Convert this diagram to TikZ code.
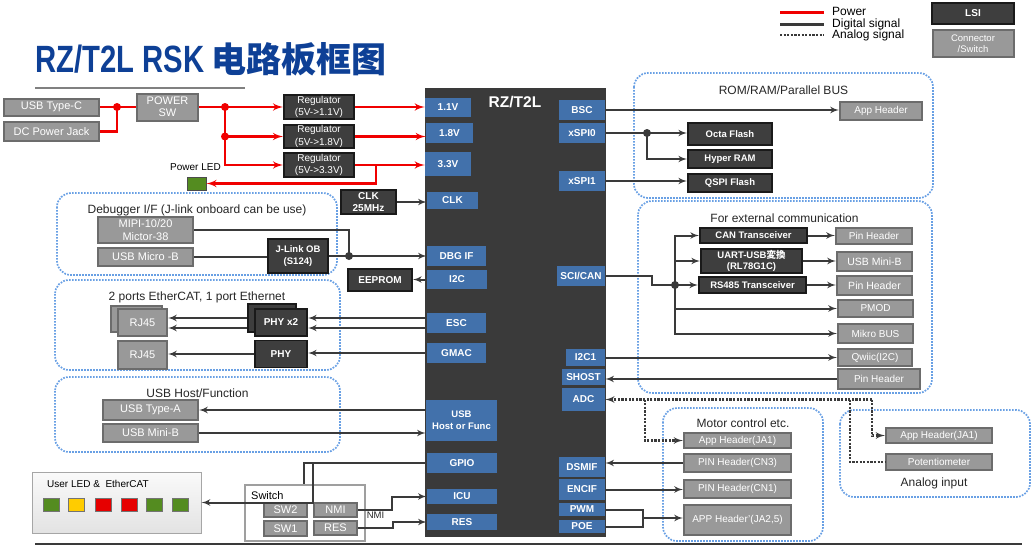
\documentclass[tikz,border=0pt]{standalone}
\usepackage{fontspec}
\setmainfont{Liberation Sans}
\newfontfamily\cjk{Noto Sans CJK SC}
\newfontfamily\jpfont{Noto Sans CJK JP}
\usetikzlibrary{shapes,arrows,positioning,calc}

\definecolor{pinblue}{RGB}{66,113,171}
\definecolor{chipgray}{RGB}{58,58,58}
\definecolor{lsigray}{RGB}{62,62,62}
\definecolor{lsiedge}{RGB}{26,26,26}
\definecolor{congray}{RGB}{153,153,153}
\definecolor{conedge}{RGB}{108,108,108}
\definecolor{grpblue}{RGB}{105,160,228}
\definecolor{sigc}{RGB}{58,58,58}
\definecolor{titleblue}{RGB}{14,64,150}
\definecolor{pwrred}{RGB}{240,0,0}
\definecolor{ledgreen}{RGB}{84,140,32}
\definecolor{ledyellow}{RGB}{255,204,0}
\definecolor{ledred}{RGB}{230,0,0}

\begin{document}
\begin{tikzpicture}[
    x=1pt, y=-1pt,
    every node/.style={inner sep=0pt, align=center},
    sz/.style 2 args={minimum width=#1pt, minimum height=#2pt},
    pinbox/.style={rectangle, fill=pinblue, text=white, font=\fontsize{10}{12}\selectfont\bfseries},
    lsibox/.style={rectangle, fill=lsigray, draw=lsiedge, line width=1.8pt, text=white, font=\fontsize{9.5}{11.5}\selectfont\bfseries},
    conbox/.style={rectangle, fill=congray, draw=conedge, line width=2pt, text=white, font=\fontsize{10}{12}\selectfont},
    conbig/.style={conbox, font=\fontsize{11}{13}\selectfont},
    grpbox/.style={draw=grpblue, line width=1.7pt, dash pattern=on 1.7pt off 1.3pt, rounded corners=14pt},
    grplabel/.style={font=\fontsize{12}{14}\selectfont, text=black!85},
    ledsq/.style={rectangle, draw=black!55, line width=0.7pt, sz={16}{13}},
    jdot/.style={circle, fill=#1, minimum size=8pt},
    pwr/.style={draw=pwrred, line width=2.5pt},
    sig/.style={draw=sigc, line width=2pt},
    ana/.style={draw=sigc, line width=2.2pt, dash pattern=on 2.2pt off 1.4pt},
    line/.style={-latex'}
]
\useasboundingbox (0,0) rectangle (1032,546);

% Title and legend
\node[anchor=west, text=titleblue] (title) at (35,59) {\fontsize{38}{40}\selectfont\bfseries\scalebox{0.77}[1]{RZ/T2L RSK}\hspace{7pt}{\fontsize{35}{38}\cjk\bfseries 电路板框图}};
\draw[line width=2.5pt, gray] (35,88) -- (245,88);
\draw[line width=1.2pt, sigc] (35,544) -- (1022,544);
\draw[pwr] (780,12.5) -- (824,12.5);
\draw[sig, line width=2.5pt] (780,24.5) -- (824,24.5);
\draw[ana, line width=2.5pt] (780,35) -- (824,35);
\node[anchor=west, font=\fontsize{12}{14}\selectfont] (lgpwr) at (832,11.5) {Power};
\node[anchor=west, font=\fontsize{12}{14}\selectfont] (lgsig) at (832,24) {Digital signal};
\node[anchor=west, font=\fontsize{12}{14}\selectfont] (lgana) at (832,35.5) {Analog signal};
\node[lsibox, sz={82}{21}, font=\fontsize{10}{12}\selectfont\bfseries] (lglsi) at (973,13.5) {LSI};
\node[conbox, sz={81}{27}, font=\fontsize{9.5}{11}\selectfont] (lgcon) at (973,43.5) {Connector\\/Switch};

% Groups
\draw[grpbox] (57,193) rectangle (337,275);
\draw[grpbox] (55,280) rectangle (340,370);
\draw[grpbox] (55,377) rectangle (340,452);
\draw[grpbox] (634,73) rectangle (933,198);
\draw[grpbox] (638,201) rectangle (932,393);
\draw[grpbox] (663,408) rectangle (823,541);
\draw[grpbox] (840,410) rectangle (1030,497);
\node[grplabel] (dbglbl) at (197,210) {Debugger I/F (J-link onboard can be use)};
\node[grplabel] (ethlbl) at (197,297) {2 ports EtherCAT, 1 port Ethernet};
\node[grplabel] (usblbl) at (197.5,393) {USB Host/Function};
\node[grplabel] (romlbl) at (783.5,90) {ROM/RAM/Parallel BUS};
\node[grplabel] (comlbl) at (784.5,218) {For external communication};
\node[grplabel] (motlbl) at (743,423) {Motor control etc.};
\node[grplabel] (analbl) at (934,483) {Analog input};

% RZ/T2L device
\node[rectangle, fill=chipgray, sz={181}{449}] (chip) at (515.5,312.5) {};
\node[text=white, font=\fontsize{15.5}{18}\selectfont\bfseries] (chiplbl) at (515,102) {RZ/T2L};
\node[pinbox, sz={46}{19}] (v11) at (448,107.5) {1.1V};
\node[pinbox, sz={47}{20}] (v18) at (449.5,133) {1.8V};
\node[pinbox, sz={46}{24}] (v33) at (448,164) {3.3V};
\node[pinbox, sz={51}{17}] (clk) at (452.5,200.5) {CLK};
\node[pinbox, sz={59}{20}] (dbg) at (456.5,256) {DBG IF};
\node[pinbox, sz={60}{19}] (i2c) at (457,279.5) {I2C};
\node[pinbox, sz={59}{20}] (esc) at (456.5,323) {ESC};
\node[pinbox, sz={59}{20}] (gmac) at (456.5,353) {GMAC};
\node[pinbox, sz={71}{41}, font=\fontsize{9.5}{12}\selectfont\bfseries] (usbf) at (461.5,420.5) {USB\\Host or Func};
\node[pinbox, sz={70}{20}] (gpio) at (462,463) {GPIO};
\node[pinbox, sz={70}{15}] (icu) at (462,496.5) {ICU};
\node[pinbox, sz={70}{16}] (rst) at (462,522) {RES};
\node[pinbox, sz={46}{20}] (bsc) at (582,110) {BSC};
\node[pinbox, sz={46}{20}] (xspi0) at (582,133) {xSPI0};
\node[pinbox, sz={46}{20}] (xspi1) at (582,181) {xSPI1};
\node[pinbox, sz={48}{20}] (scican) at (581,276) {SCI/CAN};
\node[pinbox, sz={39}{17}] (i2c1) at (585.5,357.5) {I2C1};
\node[pinbox, sz={43}{16}] (shost) at (583.5,377) {SHOST};
\node[pinbox, sz={43}{23}] (adc) at (583.5,399.5) {ADC};
\node[pinbox, sz={46}{20}] (dsmif) at (582,467) {DSMIF};
\node[pinbox, sz={46}{21}] (encif) at (582,489.5) {ENCIF};
\node[pinbox, sz={46}{13}] (pwm) at (582,509.5) {PWM};
\node[pinbox, sz={46}{13}] (poe) at (582,526.5) {POE};

% Power supply
\node[conbig, sz={95}{17}] (usbc) at (51.5,107) {USB Type-C};
\node[conbig, sz={95}{19}] (dcjack) at (51.5,131.5) {DC Power Jack};
\node[conbig, sz={61}{27}, font=\fontsize{11}{12}\selectfont] (pwsw) at (167.5,107) {POWER\\SW};
\node[lsibox, sz={70}{24}, font=\fontsize{10}{12.5}\selectfont] (reg1) at (319,107) {Regulator\\(5V->1.1V)};
\node[lsibox, sz={70}{23}, font=\fontsize{10}{12.5}\selectfont] (reg2) at (319,136.5) {Regulator\\(5V->1.8V)};
\node[lsibox, sz={70}{24}, font=\fontsize{10}{12.5}\selectfont] (reg3) at (319,165) {Regulator\\(5V->3.3V)};
\node[rectangle, fill=ledgreen, draw=black!70, line width=0.8pt, sz={19}{13}] (pled) at (196.5,183.5) {};
\node[font=\fontsize{10}{12}\selectfont] (pledlbl) at (195.5,167) {Power LED};
\node[lsibox, sz={55}{24}, font=\fontsize{10}{12}\selectfont\bfseries] (clkosc) at (368.5,202) {CLK\\25MHz};

% Debugger
\node[conbig, sz={95}{26}] (mipi) at (145.5,230) {MIPI-10/20\\Mictor-38};
\node[conbig, sz={95}{18}] (usbmicro) at (145.5,257) {USB Micro -B};
\node[lsibox, sz={60}{34}] (jlink) at (298,256) {J-Link OB\\(S124)};
\node[lsibox, sz={64}{22}, font=\fontsize{10}{12}\selectfont\bfseries] (eeprom) at (380,280) {EEPROM};

% Ethernet
\node[conbig, sz={51}{26}] (rj45s) at (136.5,319) {};
\node[conbig, sz={49}{27}] (rj45a) at (142.5,322.5) {RJ45};
\node[conbig, sz={49}{28}] (rj45b) at (142.5,354.5) {RJ45};
\node[lsibox, sz={48}{28}] (phyx2s) at (272,318) {};
\node[lsibox, sz={52}{27}, font=\fontsize{10}{12}\selectfont\bfseries] (phyx2) at (281,322.5) {PHY x2};
\node[lsibox, sz={52}{27}, font=\fontsize{10}{12}\selectfont\bfseries] (phy) at (281,354) {PHY};

% USB
\node[conbig, sz={95}{20}] (usba) at (150.5,410) {USB Type-A};
\node[conbig, sz={95}{18}] (usbminib) at (150.5,433) {USB Mini-B};

% User LED and switches
\node[rectangle, draw=black!35, line width=1pt, top color=gray!4, bottom color=gray!22, sz={169}{61}] (ledbox) at (116.5,502.5) {};
\node[anchor=west, font=\fontsize{10}{12}\selectfont] (ledlbl) at (47,484) {User LED \&\ \ EtherCAT};
\node[ledsq, fill=ledgreen] (led1) at (51,504.5) {};
\node[ledsq, fill=ledyellow] (led2) at (76,504.5) {};
\node[ledsq, fill=ledred] (led3) at (103,504.5) {};
\node[ledsq, fill=ledred] (led4) at (129,504.5) {};
\node[ledsq, fill=ledgreen] (led5) at (154,504.5) {};
\node[ledsq, fill=ledgreen] (led6) at (180,504.5) {};
\node[rectangle, draw=gray!75, line width=2.5pt, sz={120}{56}] (swbox) at (305,513) {};
\node[anchor=west, font=\fontsize{11}{13}\selectfont] (swlbl) at (251,496) {Switch};
\node[conbig, sz={43}{14}] (sw2) at (285.5,510) {SW2};
\node[conbig, sz={43}{15}] (sw1) at (285.5,528.5) {SW1};
\node[conbig, sz={43}{14}] (nmi) at (335.5,510) {NMI};
\node[conbig, sz={43}{14}] (res) at (335.5,528) {RES};

% Memory and parallel bus
\node[conbox, sz={82}{18}] (apphdr) at (881,111) {App Header};
\node[lsibox, sz={84}{22}] (octa) at (730,134) {Octa Flash};
\node[lsibox, sz={84}{18}] (hyper) at (730,159) {Hyper RAM};
\node[lsibox, sz={84}{18}] (qspi) at (730,183) {QSPI Flash};

% External communication
\node[lsibox, sz={107}{15}] (cant) at (753.5,235.5) {CAN Transceiver};
\node[lsibox, sz={101}{24}] (uart) at (751.5,261) {UART-USB{\jpfont 変換}\\(RL78G1C)};
\node[lsibox, sz={107}{16}] (rs485) at (752.5,285) {RS485 Transceiver};
\node[conbox, sz={76}{16}] (pinh1) at (874,236) {Pin Header};
\node[conbox, sz={75}{19}, font=\fontsize{10.5}{12}\selectfont] (usbmini2) at (874.5,261.5) {USB Mini-B};
\node[conbox, sz={75}{19}, font=\fontsize{10.5}{12}\selectfont] (pinh2) at (874.5,285.5) {Pin Header};
\node[conbox, sz={75}{17}] (pmod) at (875.5,308.5) {PMOD};
\node[conbox, sz={75}{19}] (mikro) at (875.5,333.5) {Mikro BUS};
\node[conbox, sz={74}{17}] (qwiic) at (875,357.5) {Qwiic(I2C)};
\node[conbox, sz={82}{20}] (pinh3) at (879,379) {Pin Header};

% Motor control and analog input
\node[conbox, sz={107}{15}] (ja1m) at (737.5,440.5) {App Header(JA1)};
\node[conbox, sz={107}{18}] (cn3) at (737.5,463) {PIN Header(CN3)};
\node[conbox, sz={107}{18}] (cn1) at (737.5,489) {PIN Header(CN1)};
\node[conbox, sz={107}{30}] (ja25) at (737.5,520) {APP Header'(JA2,5)};
\node[conbox, sz={106}{15}] (ja1a) at (939,435.5) {App Header(JA1)};
\node[conbox, sz={106}{16}] (pot) at (939,462) {Potentiometer};

% Connections: power
\coordinate (jin) at (117,107);
\coordinate (jsw) at (225,107);
\coordinate (b33) at (376,165);
\path[pwr] (usbc.east) -- (usbc.east -| pwsw.west);
\path[pwr] (dcjack.east) -| (jin);
\path[pwr] (pwsw.east) -- (jsw);
\path[pwr, line] (jsw) -- (reg1.west);
\path[pwr, line] (jsw) |- (reg2.west);
\path[pwr, line] (jsw) |- (reg3.west);
\path[pwr, line] (reg1.east) -- (reg1.east -| v11.west);
\path[pwr, line] (reg2.east) -- (reg2.east -| v18.west);
\path[pwr, line] (reg3.east) -- (reg3.east -| v33.west);
\path[pwr, line] (b33) |- (pled.east);
\node[jdot=pwrred] (d1) at (jin) {};
\node[jdot=pwrred] (d2) at (jsw) {};
\node[jdot=pwrred] (d3) at (jsw |- reg2.west) {};

% Connections: clock, debugger, eeprom
\coordinate (jdbg) at (349,256);
\path[sig, line] (clkosc.east) -- (clkosc.east -| clk.west);
\path[sig] (mipi.east) -| (jdbg);
\path[sig] (usbmicro.east) -- (usbmicro.east -| jlink.west);
\path[sig, line] (jlink.east) -- (jlink.east -| dbg.west);
\node[jdot=sigc] (d4) at (jdbg) {};
\path[sig, line] (i2c.west) -- (i2c.west -| eeprom.east);

% Connections: ethernet
\coordinate (esc1) at ($(esc.west)+(0,-5)$);
\coordinate (esc2) at ($(esc.west)+(0,5)$);
\path[sig, line] (esc1) -- (esc1 -| phyx2.east);
\path[sig, line] (esc2) -- (esc2 -| phyx2.east);
\path[sig, line] (esc1 -| phyx2s.west) -- (esc1 -| rj45a.east);
\path[sig, line] (esc2 -| phyx2s.west) -- (esc2 -| rj45a.east);
\path[sig, line] (gmac.west) -- (gmac.west -| phy.east);
\path[sig, line] (phy.west) -- (phy.west -| rj45b.east);

% Connections: usb
\path[sig, line] (usba.east -| usbf.west) -- (usba.east);
\path[sig, line] (usbminib.east) -- (usbminib.east -| usbf.west);

% Connections: gpio, switches
\coordinate (g1) at (304,463);
\coordinate (g2) at (313,463);
\path[sig] (gpio.west) -- (g1) -- (g1 |- swbox.north);
\path[sig, line] (g2) |- (ledbox.east);
\path[sig, line] (nmi.east) -- ++(34,0) |- (icu.west);
\path[sig, line] (res.east) -- ++(35,0) |- (rst.west);
\node[font=\fontsize{9.5}{11}\selectfont, text=black!85] (nmilbl) at (375.5,515) {NMI};

% Connections: memory
\coordinate (jx0) at (647,133);
\path[sig, line] (bsc.east) -- (bsc.east -| apphdr.west);
\path[sig] (xspi0.east) -- (jx0);
\path[sig, line] (jx0) -- (jx0 -| octa.west);
\path[sig, line] (jx0) |- (hyper.west);
\node[jdot=sigc] (d5) at (jx0) {};
\path[sig, line] (xspi1.east) -- (xspi1.east -| qspi.west);

% Connections: external communication
\coordinate (jbus) at (675,285);
\path[sig] (scican.east) -- ++(47,0) |- (jbus);
\path[sig, line] (jbus) -- (jbus -| rs485.west);
\path[sig, line] (jbus) |- (cant.west);
\path[sig, line] (jbus |- uart.west) -- (uart.west);
\path[sig, line] (jbus) |- (pmod.west);
\path[sig, line] (jbus) |- (mikro.west);
\node[jdot=sigc] (d6) at (jbus) {};
\path[sig, line] (cant.east) -- (cant.east -| pinh1.west);
\path[sig, line] (uart.east) -- (uart.east -| usbmini2.west);
\path[sig, line] (rs485.east) -- (rs485.east -| pinh2.west);
\path[sig, line] (i2c1.east) -- (i2c1.east -| qwiic.west);
\path[sig, line] (pinh3.west) -- (pinh3.west -| shost.east);

% Connections: analog
\coordinate (a1) at (645,399.5);
\coordinate (a2) at (850,399.5);
\coordinate (a3) at (872,399.5);
\path[ana, line] (a3) -- (adc.east);
\path[ana, line] (a1) |- (ja1m.west);
\path[ana] (a2) |- (pot.west);
\path[ana, line] (a3) |- (ja1a.west);

% Connections: motor control
\coordinate (jpw) at (643,518);
\path[sig, line] (cn3.west) -- (cn3.west -| dsmif.east);
\path[sig, line] (encif.east) -- (encif.east -| cn1.west);
\path[sig] (pwm.east) -| (jpw |- poe.east) -- (poe.east);
\path[sig, line] (jpw) -- (jpw -| ja25.west);

\end{tikzpicture}
\end{document}
